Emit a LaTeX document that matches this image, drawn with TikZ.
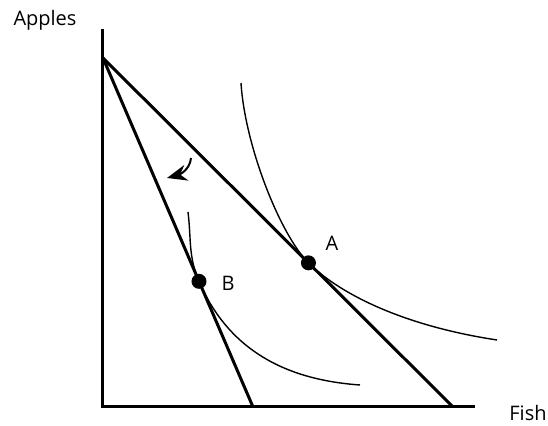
\documentclass[tikz,border=0pt]{standalone}
\usepackage{fontspec}
\setmainfont{Open Sans}
\usetikzlibrary{calc, arrows.meta}
\begin{document}
\begin{tikzpicture}[x=0.5pt, y=0.5pt, >=stealth, font=\fontsize{10}{12}\selectfont]
			\useasboundingbox (0,0) rectangle (548,426);
			\coordinate (O) at (103,19);
			\coordinate (ytop) at (103,397);
			\coordinate (xend) at (475,19);
			\coordinate (K) at (103,368);
			\coordinate (F1) at (453,19);
			\coordinate (F2) at (253,19);
			\coordinate (A) at ($(K)!0.587!(F1)$);
			\coordinate (B) at ($(K)!0.64!(F2)$);
			
			\draw[line width=1.5pt] (ytop) -- (O) -- (xend);
			\node (apples) at (45,406) {Apples};
			\node (fish) at (528,13) {Fish};
			
			\draw[line width=1.5pt] (K) -- (F1);
			\draw[line width=1.5pt] (K) -- (F2);
			
			\draw[line width=0.7pt] (241,343) .. controls +(4,-63) and +(-28.3,28.3) .. (A)
				.. controls +(28.3,-28.3) and +(-99,15) .. (497,86);
			\draw[line width=0.7pt] (188,214) to[out=-83, in=113.3] (B) to[out=-66.7, in=176] (360,41);
			
			\coordinate (tail) at (191,268);
			\coordinate (tip) at (167,248);
			\draw[line width=1pt, -{Stealth[length=10pt, width=8pt]}] (tail) to[out=-95, in=15] (tip);
			
			\foreach \pt in {A, B} {
				\fill (\pt) circle (7.5);
			}
			\node (lblA) at (332,183) {A};
			\node (lblB) at (228,143) {B};
	\end{tikzpicture}
\end{document}
